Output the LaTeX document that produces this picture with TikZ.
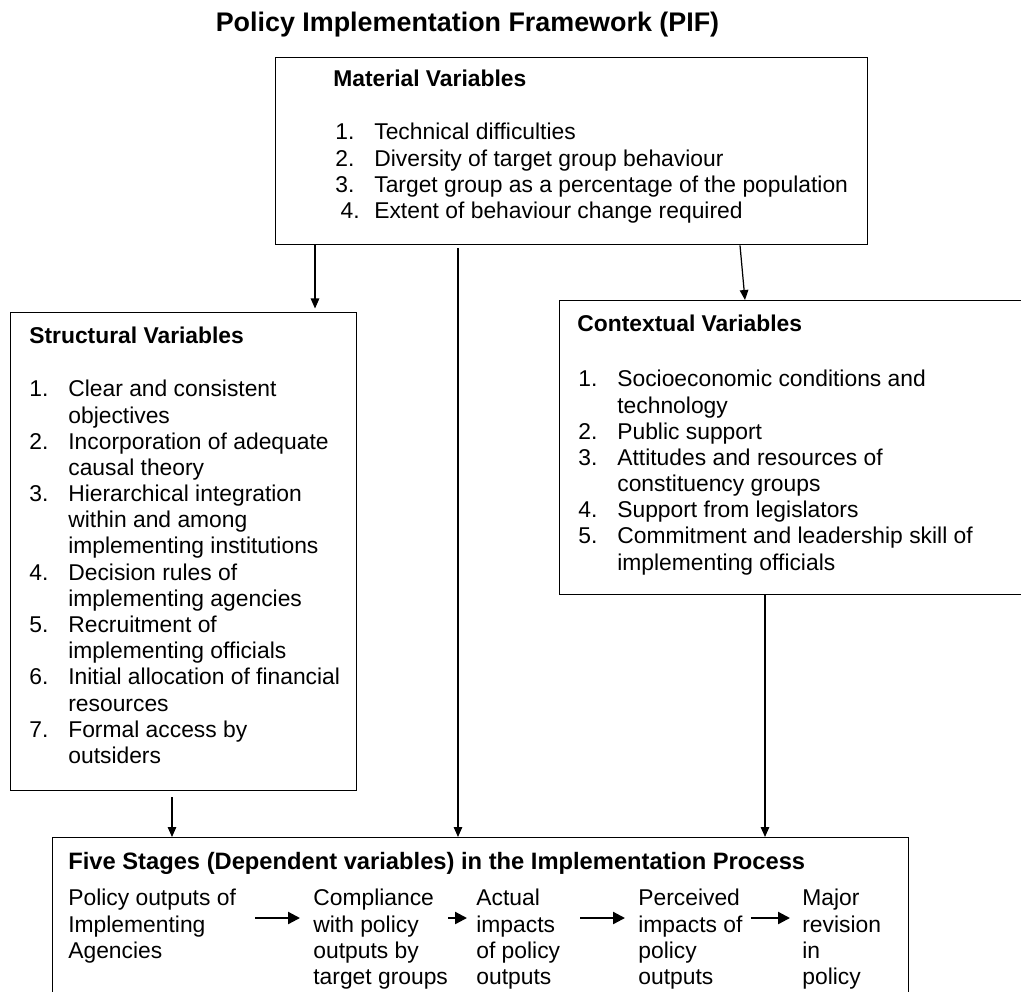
\documentclass[tikz,border=0pt]{standalone}
\usepackage{fontspec}
\setmainfont{Liberation Sans}
\usetikzlibrary{arrows.meta}

\newcommand{\numitem}[1]{\makebox[22.2pt][l]{#1}}
\newcommand{\contline}{\hspace*{22.2pt}}

\tikzset{
	varbox/.style={draw, line width=0.8pt, anchor=north west, inner sep=0pt},
	boxhead/.style={anchor=north west, inner sep=0pt, font=\fontsize{13}{14.9}\selectfont\bfseries},
	boxtext/.style={anchor=north west, inner sep=0pt, align=left, font=\fontsize{13}{14.9}\selectfont},
	link/.style={line width=0.7pt, -{Triangle[length=0.2cm,width=0.17cm]}},
	stagearrow/.style={line width=1.3pt, -{Triangle[length=0.24cm,width=0.24cm]}}
}

\begin{document}
\begin{tikzpicture}[x=0.02cm, y=-0.02cm]
			\useasboundingbox (0,0) rectangle (1021,991);
			\clip (0,0) rectangle (1021,991);

			\node[anchor=base, inner sep=0pt, font=\fontsize{15.3}{18}\selectfont\bfseries] (title) at (467.5,31) {Policy Implementation Framework (PIF)};

			% boxes
			\node[varbox, minimum width=11.84cm, minimum height=3.74cm] (material) at (275,57) {};
			\node[varbox, minimum width=6.92cm, minimum height=9.56cm] (structural) at (10,312) {};
			\node[varbox, minimum width=9.42cm, minimum height=5.88cm] (contextual) at (559,300) {};
			\node[varbox, minimum width=17.12cm, minimum height=3.4cm] (stages) at (52,837) {};

			% material variables
			\node[boxhead] (mathead) at (333,70) {Material Variables};
			\node[boxtext] (matlist) at (335,123) {
				\numitem{1.}Technical difficulties\\
				\numitem{2.}Diversity of target group behaviour\\
				\numitem{3.}Target group as a percentage of the population\\
				\hspace*{3pt}\makebox[19.2pt][l]{4.}Extent of behaviour change required
			};

			% structural variables
			\node[boxhead] (strhead) at (29,327) {Structural Variables};
			\node[boxtext] (strlist) at (29,380) {
				\numitem{1.}Clear and consistent\\
				\contline objectives\\
				\numitem{2.}Incorporation of adequate\\
				\contline causal theory\\
				\numitem{3.}Hierarchical integration\\
				\contline within and among\\
				\contline implementing institutions\\
				\numitem{4.}Decision rules of\\
				\contline implementing agencies\\
				\numitem{5.}Recruitment of\\
				\contline implementing officials\\
				\numitem{6.}Initial allocation of financial\\
				\contline resources\\
				\numitem{7.}Formal access by\\
				\contline outsiders
			};

			% contextual variables
			\node[boxhead] (conhead) at (577,315) {Contextual Variables};
			\node[boxtext] (conlist) at (578,370) {
				\numitem{1.}Socioeconomic conditions and\\
				\contline technology\\
				\numitem{2.}Public support\\
				\numitem{3.}Attitudes and resources of\\
				\contline constituency groups\\
				\numitem{4.}Support from legislators\\
				\numitem{5.}Commitment and leadership skill of\\
				\contline implementing officials
			};

			% five stages
			\node[boxhead, font=\fontsize{13.5}{15}\selectfont\bfseries] (stagehead) at (68,852) {Five Stages (Dependent variables) in the Implementation Process};
			\node[boxtext] (stage1) at (68,889) {Policy outputs of\\Implementing\\Agencies};
			\node[boxtext] (stage2) at (313,889) {Compliance\\with policy\\outputs by\\target groups};
			\node[boxtext] (stage3) at (476,889) {Actual\\impacts\\of policy\\outputs};
			\node[boxtext] (stage4) at (638,889) {Perceived\\impacts of\\policy\\outputs};
			\node[boxtext] (stage5) at (802,889) {Major\\revision\\in\\policy};

			\coordinate (row) at (0,918);
			\draw[stagearrow, shorten <=0.38cm, shorten >=0.26cm] (stage1.east |- row) -- (stage2.west |- row);
			\draw[stagearrow, shorten <=0cm, shorten >=0.18cm] (stage2.east |- row) -- (stage3.west |- row);
			\draw[stagearrow, shorten <=0.4cm, shorten >=0.26cm] (stage3.east |- row) -- (stage4.west |- row);
			\draw[stagearrow, shorten <=0.16cm, shorten >=0.24cm] (stage4.east |- row) -- (stage5.west |- row);

			% connectors
			\coordinate (m1) at ([shift={(40,0)}]material.south west);
			\coordinate (m2) at ([shift={(183,3)}]material.south west);
			\coordinate (m3) at ([shift={(465,0)}]material.south west);
			\coordinate (c0) at ([shift={(186,0)}]contextual.north west);
			\coordinate (s1) at ([shift={(162,6)}]structural.south west);
			\coordinate (c1) at ([shift={(206,0)}]contextual.south west);
			\draw[link, shorten >=2pt] (m1) -- (m1 |- structural.north);
			\draw[link] (m2) -- (m2 |- stages.north);
			\draw[link] (m3) -- (c0);
			\draw[link] (s1) -- (s1 |- stages.north);
			\draw[link] (c1) -- (c1 |- stages.north);
		\end{tikzpicture}
\end{document}
